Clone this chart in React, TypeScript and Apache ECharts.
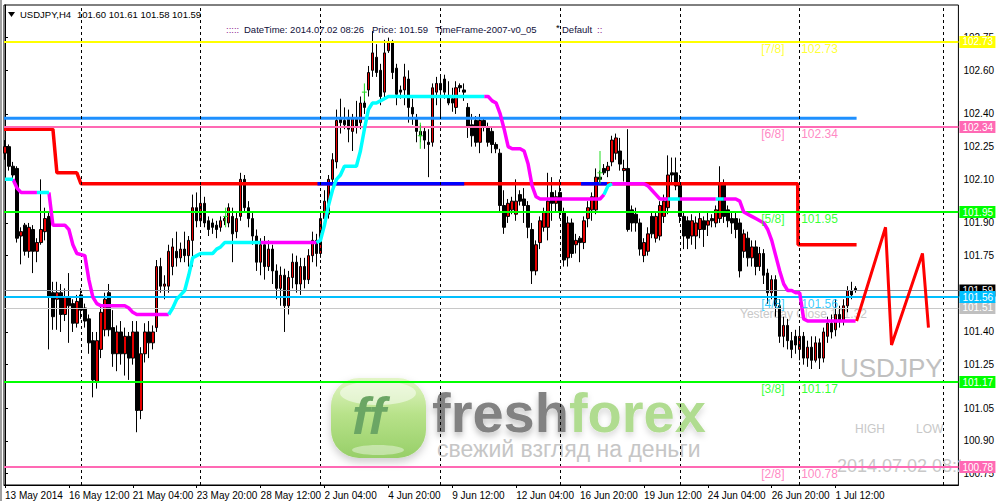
import React, { useEffect, useRef } from "react";
import * as echarts from "echarts";

const UI_FONT = '"Liberation Sans", Arial, sans-serif';
const TEXT_FONT = '"Liberation Sans", Arial, sans-serif';

// ---------- axes ----------
const xTickBars = [0, 16, 32, 48, 64, 80, 96, 112, 128, 144, 160, 176, 192, 208];
const xTickLabels = [
  "13 May 2014", "16 May 12:00", "21 May 04:00", "23 May 20:00", "28 May 12:00",
  "2 Jun 04:00", "4 Jun 20:00", "9 Jun 12:00", "12 Jun 04:00", "16 Jun 20:00",
  "19 Jun 12:00", "24 Jun 04:00", "26 Jun 20:00", "1 Jul 12:00",
];
const yTickValues = [100.75, 100.9, 101.05, 101.25, 101.4, 101.75, 101.9, 102.1, 102.25, 102.4, 102.6, 102.75];
const weekSeparators = [19, 49, 79, 109, 139, 169, 199, 235];

// ---------- USDJPY H4 candles: [open, close, low, high] ----------
const candles: number[][] = [
  [102.22, 102.25, 102.19, 102.28], [102.25, 102.16, 102.14, 102.26], [102.16, 102.12, 102.10, 102.18], [102.15, 101.83, 101.81, 102.16],
  [101.84, 101.86, 101.71, 101.88], [101.89, 101.77, 101.75, 101.90], [101.77, 101.88, 101.74, 101.90], [101.87, 101.77, 101.67, 101.89],
  [101.77, 101.81, 101.72, 101.83], [101.81, 101.87, 101.80, 102.10], [101.86, 101.92, 101.82, 101.97], [101.93, 101.56, 101.32, 101.95],
  [101.58, 101.47, 101.41, 101.63], [101.55, 101.58, 101.41, 101.63], [101.58, 101.48, 101.40, 101.62], [101.48, 101.56, 101.45, 101.60],
  [101.56, 101.52, 101.35, 101.67], [101.53, 101.44, 101.40, 101.55], [101.44, 101.54, 101.42, 101.57], [101.57, 101.50, 101.46, 101.60],
  [101.51, 101.45, 101.42, 101.53], [101.46, 101.35, 101.30, 101.48], [101.36, 101.18, 101.10, 101.40], [101.17, 101.36, 101.14, 101.40],
  [101.32, 101.49, 101.28, 101.52], [101.41, 101.55, 101.38, 101.58], [101.58, 101.41, 101.38, 101.62], [101.42, 101.30, 101.24, 101.50],
  [101.30, 101.40, 101.22, 101.43], [101.40, 101.30, 101.25, 101.45], [101.30, 101.38, 101.20, 101.42], [101.38, 101.28, 101.18, 101.40],
  [101.28, 101.40, 101.25, 101.45], [101.40, 101.04, 100.94, 101.45], [101.04, 101.30, 101.00, 101.33], [101.30, 101.40, 101.26, 101.44],
  [101.40, 101.35, 101.28, 101.45], [101.35, 101.40, 101.32, 101.43], [101.42, 101.70, 101.40, 101.73], [101.70, 101.61, 101.58, 101.74],
  [101.61, 101.62, 101.55, 101.66], [101.61, 101.77, 101.58, 101.80], [101.70, 101.79, 101.66, 101.83], [101.77, 101.74, 101.70, 101.86],
  [101.74, 101.78, 101.72, 101.81], [101.78, 101.75, 101.72, 101.86], [101.75, 101.82, 101.70, 101.84], [101.82, 101.97, 101.70, 102.03],
  [101.97, 101.91, 101.88, 102.04], [101.91, 101.99, 101.89, 102.07], [101.99, 101.90, 101.88, 102.02], [101.91, 101.87, 101.84, 101.93],
  [101.90, 101.88, 101.85, 101.92], [101.89, 101.87, 101.83, 101.91], [101.88, 101.91, 101.86, 101.93], [101.91, 101.92, 101.89, 101.93],
  [101.90, 101.97, 101.88, 101.99], [101.93, 101.85, 101.72, 101.97], [101.86, 101.92, 101.83, 101.95], [101.93, 102.10, 101.91, 102.13],
  [102.10, 101.97, 101.95, 102.12], [101.97, 101.92, 101.88, 102.00], [101.92, 101.84, 101.80, 101.95], [101.84, 101.72, 101.68, 101.87],
  [101.72, 101.80, 101.66, 101.83], [101.80, 101.70, 101.64, 101.84], [101.70, 101.78, 101.68, 101.82], [101.78, 101.68, 101.62, 101.80],
  [101.68, 101.60, 101.55, 101.71], [101.60, 101.66, 101.52, 101.70], [101.66, 101.52, 101.40, 101.69], [101.52, 101.65, 101.48, 101.68],
  [101.65, 101.72, 101.60, 101.76], [101.72, 101.62, 101.58, 101.75], [101.62, 101.70, 101.57, 101.74], [101.70, 101.64, 101.60, 101.74],
  [101.64, 101.75, 101.62, 101.78], [101.75, 101.82, 101.72, 101.86], [101.82, 101.76, 101.70, 101.85], [101.76, 101.92, 101.74, 101.95],
  [101.92, 102.00, 101.88, 102.05], [101.94, 102.10, 101.92, 102.12], [102.10, 102.19, 102.06, 102.22], [102.18, 102.37, 102.15, 102.42],
  [102.38, 102.36, 102.31, 102.47], [102.37, 102.35, 102.33, 102.43], [102.38, 102.33, 102.27, 102.42], [102.32, 102.38, 102.23, 102.40],
  [102.38, 102.34, 102.31, 102.46], [102.36, 102.45, 102.33, 102.48], [102.45, 102.43, 102.40, 102.50], [102.51, 102.59, 102.48, 102.62],
  [102.60, 102.68, 102.57, 102.78], [102.66, 102.59, 102.57, 102.72], [102.60, 102.48, 102.44, 102.63], [102.50, 102.68, 102.47, 102.74],
  [102.69, 102.73, 102.68, 102.75], [102.73, 102.59, 102.56, 102.74], [102.61, 102.49, 102.44, 102.63], [102.51, 102.50, 102.47, 102.53],
  [102.51, 102.57, 102.44, 102.63], [102.56, 102.43, 102.36, 102.60], [102.43, 102.40, 102.35, 102.47], [102.38, 102.32, 102.27, 102.40],
  [102.32, 102.30, 102.27, 102.35], [102.32, 102.28, 102.24, 102.34], [102.27, 102.26, 102.11, 102.33], [102.27, 102.52, 102.25, 102.54],
  [102.50, 102.54, 102.44, 102.57], [102.54, 102.51, 102.38, 102.57], [102.56, 102.50, 102.47, 102.58], [102.48, 102.45, 102.44, 102.55],
  [102.47, 102.45, 102.41, 102.52], [102.43, 102.52, 102.40, 102.55], [102.53, 102.52, 102.50, 102.54], [102.51, 102.50, 102.46, 102.54],
  [102.43, 102.34, 102.29, 102.45], [102.35, 102.30, 102.25, 102.40], [102.37, 102.27, 102.25, 102.39], [102.27, 102.37, 102.22, 102.40],
  [102.37, 102.34, 102.32, 102.38], [102.34, 102.27, 102.25, 102.36], [102.32, 102.26, 102.22, 102.34], [102.26, 102.24, 102.22, 102.27],
  [102.22, 101.98, 101.95, 102.24], [101.98, 101.88, 101.85, 102.05], [101.93, 101.99, 101.90, 102.01], [101.96, 102.00, 101.94, 102.02],
  [101.94, 102.00, 101.91, 102.10], [102.03, 102.00, 101.98, 102.05], [102.01, 101.98, 101.90, 102.06], [101.98, 101.88, 101.83, 102.00],
  [101.87, 101.68, 101.62, 101.90], [101.68, 101.80, 101.66, 101.82], [101.81, 101.91, 101.78, 101.93], [101.88, 101.95, 101.86, 101.97],
  [101.88, 102.00, 101.82, 102.13], [102.04, 101.99, 101.91, 102.11], [101.99, 102.02, 101.95, 102.05], [102.04, 101.95, 101.92, 102.10],
  [101.95, 101.73, 101.70, 101.97], [101.74, 101.90, 101.70, 101.93], [101.90, 101.76, 101.74, 101.92], [101.80, 101.82, 101.76, 101.85],
  [101.83, 101.81, 101.72, 101.84], [101.81, 101.91, 101.78, 101.93], [101.92, 101.97, 101.88, 102.00], [101.96, 102.02, 101.91, 102.04],
  [101.96, 102.11, 101.94, 102.15], [102.11, 102.10, 102.08, 102.14], [102.15, 102.13, 102.12, 102.17], [102.14, 102.16, 102.11, 102.18],
  [102.18, 102.28, 102.16, 102.30], [102.22, 102.29, 102.19, 102.31], [102.23, 102.17, 102.14, 102.29], [102.14, 102.15, 102.09, 102.19],
  [102.15, 101.87, 101.86, 102.33], [101.96, 101.90, 101.86, 101.98], [101.94, 101.90, 101.86, 101.97], [101.90, 101.78, 101.75, 101.92],
  [101.75, 101.81, 101.72, 101.83], [101.77, 101.85, 101.75, 101.88], [101.93, 101.85, 101.83, 101.95], [101.83, 101.93, 101.81, 101.95],
  [101.84, 101.98, 101.82, 102.00], [101.93, 102.00, 101.90, 102.03], [101.97, 102.12, 101.94, 102.21], [102.13, 102.12, 102.08, 102.20],
  [102.13, 102.07, 102.05, 102.20], [102.08, 101.93, 101.90, 102.12], [101.93, 101.84, 101.78, 101.95], [101.91, 101.83, 101.78, 101.93],
  [101.84, 101.91, 101.80, 101.94], [101.84, 101.90, 101.78, 101.93], [101.87, 101.92, 101.83, 101.95], [101.91, 101.87, 101.79, 101.93],
  [101.89, 101.91, 101.84, 101.95], [101.92, 101.91, 101.88, 101.94], [101.90, 101.96, 101.88, 101.98], [101.92, 102.08, 101.90, 102.16],
  [102.08, 101.93, 101.90, 102.10], [101.96, 101.91, 101.88, 101.98], [101.92, 101.90, 101.85, 101.95], [101.92, 101.87, 101.83, 101.95],
  [101.90, 101.68, 101.65, 101.92], [101.77, 101.85, 101.74, 101.87], [101.83, 101.74, 101.70, 101.86], [101.74, 101.79, 101.70, 101.82],
  [101.79, 101.70, 101.66, 101.82], [101.70, 101.76, 101.68, 101.79], [101.76, 101.66, 101.62, 101.78], [101.67, 101.58, 101.53, 101.69],
  [101.58, 101.64, 101.55, 101.66], [101.64, 101.52, 101.47, 101.66], [101.52, 101.38, 101.35, 101.55], [101.38, 101.43, 101.33, 101.47],
  [101.43, 101.36, 101.32, 101.46], [101.36, 101.32, 101.28, 101.40], [101.38, 101.34, 101.30, 101.41], [101.32, 101.38, 101.27, 101.42],
  [101.38, 101.28, 101.25, 101.40], [101.28, 101.33, 101.24, 101.36], [101.33, 101.27, 101.23, 101.38], [101.27, 101.35, 101.26, 101.38],
  [101.35, 101.28, 101.23, 101.37], [101.28, 101.40, 101.26, 101.42], [101.38, 101.44, 101.35, 101.47], [101.44, 101.40, 101.37, 101.48],
  [101.41, 101.48, 101.38, 101.55], [101.48, 101.45, 101.42, 101.52], [101.45, 101.52, 101.43, 101.55], [101.52, 101.59, 101.49, 101.61],
  [101.59, 101.57, 101.55, 101.63], [101.60, 101.59, 101.58, 101.61],
];

// ---------- trend line (vertices: [bar, price]) and its rising (cyan) stretches ----------
const trendPoints: number[][] = [
  [0, 102.10], [2, 102.10], [3, 102.06], [4, 102.04], [11, 102.04], [12, 101.89], [15, 101.89], [16, 101.87], [17, 101.80],
  [18, 101.76], [20, 101.75], [21, 101.64], [22, 101.56], [23, 101.53], [24, 101.52], [30, 101.52], [31, 101.51], [32, 101.49],
  [33, 101.48], [41, 101.48], [42, 101.51], [43, 101.55], [44, 101.57], [45, 101.59], [46, 101.66], [47, 101.74], [48, 101.75],
  [49, 101.76], [52, 101.76], [53, 101.78], [54, 101.79], [55, 101.81], [78, 101.81], [79, 101.82], [80, 101.89], [81, 101.98],
  [82, 102.05], [83, 102.10], [84, 102.12], [85, 102.16], [88, 102.16], [89, 102.23], [90, 102.33], [91, 102.42], [92, 102.45],
  [93, 102.45], [94, 102.46], [95, 102.47], [96, 102.48], [121, 102.48], [122, 102.46], [123, 102.45], [124, 102.40], [125, 102.33],
  [126, 102.25], [127, 102.24], [129, 102.24], [130, 102.23], [131, 102.17], [132, 102.07], [133, 102.02], [134, 102.01], [149, 102.01],
  [150, 102.03], [151, 102.07], [152, 102.08], [160, 102.08], [161, 102.07], [162, 102.05], [163, 102.03], [164, 102.01], [183, 102.01],
  [184, 102.00], [185, 101.95], [186, 101.94], [187, 101.93], [188, 101.92], [189, 101.91], [190, 101.90], [191, 101.87], [192, 101.82],
  [193, 101.75], [194, 101.68], [195, 101.62], [196, 101.59], [197, 101.59], [198, 101.58], [199, 101.58], [200, 101.46], [201, 101.45],
  [213, 101.45],
];
const cyanRanges = [[0, 2], [8, 11], [41, 64], [78, 120], [150, 152], [166, 169], [178, 180]];

// ---------- red stop line, blue overlay, projection ----------
const redPoints = [[-0.25, 102.33], [12, 102.33], [13, 102.13], [18, 102.13], [19, 102.08], [198.5, 102.08], [198.6, 101.80], [213.25, 101.80]];
const blueSegments = [[[78.25, 102.08], [115, 102.08]], [[144.25, 102.08], [150.75, 102.08]]];
const projectionPoints = [[213.25, 101.45], [220.5, 101.88], [222, 101.34], [229.75, 101.76], [231.25, 101.42]];
const dodgerLevel = 102.38;

// ---------- green marks: [bar, top, bottom, tick] ----------
const greenMarks = [[55.25, 101.97, 101.88, 101.93], [90, 102.54, 102.46, 102.50], [104, 102.36, 102.24, 102.30], [149, 102.23, 102.08, 102.13]];

// ---------- Murrey levels ----------
const murreyNames = ["[7/8]", "[6/8]", "[5/8]", "[4/8]", "[3/8]", "[2/8]"];
const murreyLevels = [102.73, 102.34, 101.95, 101.56, 101.17, 100.78];
const murreyColors = ["#FFFF00", "#FF69B4", "#00FF00", "#00BFFF", "#00FF00", "#FF69B4"];
const bidLevel = 101.59;
const silverLevel = 101.51;

const X_MIN = -0.25;
const X_MAX = 238.75;
const Y_MIN = 100.698;
const Y_MAX = 102.8997;

function interp(pts: number[][], x: number): number {
  for (let i = 0; i < pts.length - 1; i++) {
    const a = pts[i], b = pts[i + 1];
    if (x >= a[0] && x <= b[0]) return a[1] + ((b[1] - a[1]) * (x - a[0])) / (b[0] - a[0]);
  }
  return pts[pts.length - 1][1];
}
function slicePts(pts: number[][], a: number, b: number) {
  const out = [[a, interp(pts, a)]];
  pts.forEach((p) => { if (p[0] > a && p[0] < b) out.push(p); });
  out.push([b, interp(pts, b)]);
  return out;
}

function buildOption() {
  const last = candles[candles.length - 1];
  const lineSeries = (data: number[][], color: string, width: number, z: number) => ({
    type: "line", data, symbol: "none", silent: true, z, clip: true,
    lineStyle: { color, width }, animation: false,
  });

  const magentaRanges: number[][] = [];
  let start = 0;
  cyanRanges.forEach((r) => { if (r[0] > start) magentaRanges.push([start, r[0]]); start = r[1]; });
  if (start < 213) magentaRanges.push([start, 213]);

  const tag = (v: number, color: string, lineColor: string, width: number) => ({
    yAxis: v,
    lineStyle: { color: lineColor, width, type: "solid" },
    label: {
      show: true, position: "end", distance: 1, formatter: v.toFixed(2), color: "#FFFFFF",
      backgroundColor: color, padding: [1, 0, 0, 3], width: 33, height: 11, lineHeight: 11,
      fontSize: 10, fontFamily: UI_FONT,
    },
  });

  const levelData: any[] = [
    tag(bidLevel, "#000000", "#8A9099", 1),
    tag(silverLevel, "#C0C0C0", "#C8C8C8", 1),
  ];
  murreyLevels.forEach((v, i) => { if (i !== 3) levelData.push(tag(v, murreyColors[i], murreyColors[i], 2)); });
  levelData.push(tag(murreyLevels[3], murreyColors[3], murreyColors[3], 2));

  const series: any[] = [
    {
      type: "line", data: [], z: 3, silent: true,
      markLine: { symbol: ["none", "none"], silent: true, animation: false, label: { show: false },
        lineStyle: { type: [3, 3], color: "#000", width: 1 }, data: weekSeparators.map((v) => ({ xAxis: v })) },
    },
    {
      type: "candlestick", data: candles.map((c, i) => [i, c[0], c[1], c[2], c[3]]),
      encode: { x: 0, y: [1, 2, 3, 4] }, barWidth: 3, silent: true, z: 2,
      itemStyle: { color: "#E60000", color0: "#000000", borderColor: "#000000", borderColor0: "#000000", borderWidth: 1 },
    },
    {
      type: "line", data: [], z: 3, silent: true,
      markLine: { symbol: ["none", "none"], silent: true, animation: false, data: levelData },
    },
    lineSeries([[X_MIN, dodgerLevel], [213.25, dodgerLevel]], "#1E90FF", 3, 3),
    lineSeries(redPoints, "#FF0000", 3.5, 4),
    ...blueSegments.map((s) => lineSeries(s, "#0000FF", 3.5, 4)),
    ...magentaRanges.map((r) => lineSeries(slicePts(trendPoints, r[0], r[1]), "#FF00FF", 3.5, 5)),
    ...cyanRanges.map((r) => lineSeries(slicePts(trendPoints, r[0], r[1]), "#00FFFF", 3.5, 5)),
    lineSeries(projectionPoints, "#FF0000", 3, 5),
    {
      type: "custom", z: 5, silent: true, data: greenMarks, encode: { x: 0, y: [1, 2, 3] },
      renderItem: (_p: any, api: any) => {
        const t = api.coord([api.value(0), api.value(1)]);
        const b = api.coord([api.value(0), api.value(2)]);
        const m = api.coord([api.value(0), api.value(3)]);
        const st = { stroke: "#22DD22", lineWidth: 1 };
        return {
          type: "group",
          children: [
            { type: "line", shape: { x1: t[0], y1: t[1], x2: b[0], y2: b[1] }, style: st },
            { type: "line", shape: { x1: m[0] - 2.5, y1: m[1], x2: m[0] + 2.5, y2: m[1] }, style: st },
          ],
        };
      },
    },
    {
      type: "scatter", z: 6, silent: true, symbolSize: 1, itemStyle: { color: "transparent" },
      data: murreyLevels.flatMap((v, i) => [
        { value: [189.5, v], label: { formatter: murreyNames[i], color: murreyColors[i] } },
        { value: [199.5, v], label: { formatter: v.toFixed(2), color: murreyColors[i] } },
      ]),
      label: { show: true, position: [0, 1], align: "left", verticalAlign: "top", fontSize: 12, lineHeight: 13, fontFamily: TEXT_FONT },
    },
  ];

  const gtext = (x: number, y: number, text: string, font: string, fill: string, z = 0, extra: any = {}) => ({
    type: "text", x, y, z, silent: true,
    style: { text, font, fill, align: "left", verticalAlign: "middle", ...extra },
  });
  const HDR1 = "9.5px " + UI_FONT;
  const HDR2 = "9.5px " + UI_FONT;

  const graphic: any[] = [
    // FreshForex watermark
    {
      type: "rect", z: -1, silent: true, shape: { x: 331, y: 378, width: 95, height: 80, r: 28 },
      style: {
        fill: new echarts.graphic.LinearGradient(0, 0, 0, 1, [
          { offset: 0, color: "#E2F5C6" }, { offset: 0.45, color: "#B8E28A" }, { offset: 1, color: "#97CF68" },
        ]),
        shadowBlur: 8, shadowColor: "rgba(0,0,0,0.2)", shadowOffsetY: 4,
      },
    },
    { type: "ellipse", z: -1, silent: true, shape: { cx: 378, cy: 393, rx: 38, ry: 12 }, style: { fill: "rgba(255,255,255,0.5)" } },
    { type: "ellipse", z: -1, silent: true, shape: { cx: 378, cy: 450, rx: 26, ry: 5 }, style: { fill: "rgba(255,255,255,0.4)" } },
    gtext(352, 416, "ff", 'italic bold 52px "Liberation Sans", Arial, sans-serif', "#6BA664", -1),
    {
      type: "text", x: 432, y: 412, z: -1, silent: true,
      style: {
        text: "{a|fresh}{b|forex}", verticalAlign: "middle", align: "left",
        rich: {
          a: { font: 'bold 56px "Liberation Sans", Arial, sans-serif', fill: "#828282", textShadowBlur: 6, textShadowColor: "rgba(0,0,0,0.25)", textShadowOffsetY: 4 },
          b: { font: 'bold 56px "Liberation Sans", Arial, sans-serif', fill: "#B0DC90", textShadowBlur: 6, textShadowColor: "rgba(0,0,0,0.15)", textShadowOffsetY: 4 },
        },
      },
    },
    gtext(437, 449, "свежий взгляд на деньги", '23px "Liberation Sans", Arial, sans-serif', "#C6C6C6", -1),

    // annotations
    gtext(740, 314, "Yesterday Close 101.32", "12px " + TEXT_FONT, "#C8C8C8", 0),
    gtext(840, 368, "USDJPY", "26px " + TEXT_FONT, "#C0C0C0", 0),
    gtext(855, 429, "HIGH", "12px " + TEXT_FONT, "#C8C8C8", 0),
    gtext(916, 429, "LOW", "12px " + TEXT_FONT, "#C8C8C8", 0),
    gtext(837, 466, "2014.07.02 08:26", "18px " + TEXT_FONT, "#C8C8C8", 0),
    { type: "rect", z: 1, silent: true, shape: { x: 961, y: 0, width: 36, height: 501 }, style: { fill: "#FFFFFF" } },
    { type: "rect", z: 1, silent: true, shape: { x: 0, y: 0, width: 2, height: 501 }, style: { fill: "#A0A0A0" } },

    // header
    { type: "polygon", z: 6, silent: true, shape: { points: [[8, 12], [15, 12], [11.5, 17]] }, style: { fill: "#000" } },
    gtext(20, 14.5, "USDJPY,H4", HDR1, "#000", 6),
    gtext(77, 14.5, `${last[0].toFixed(2)} ${last[3].toFixed(2)} ${last[2].toFixed(2)} ${last[1].toFixed(2)}`, HDR1, "#000", 6),
    gtext(226, 29, ":::::", HDR2, "#8B1A8B", 6),
    gtext(244, 29, "DateTime: 2014.07.02 08:26", HDR2, "#10103A", 6),
    gtext(372, 29, `Price: ${last[1].toFixed(2)}`, HDR2, "#10103A", 6),
    gtext(435, 29, "TimeFrame-2007-v0_05", HDR2, "#10103A", 6),
    gtext(556, 27, "*", HDR2, "#000", 6),
    gtext(562, 29, "Default", HDR2, "#10103A", 6),
    gtext(597, 29, "::", HDR2, "#8B1A8B", 6),
  ];

  return {
    animation: false,
    backgroundColor: "#FFFFFF",
    grid: { left: 4, top: 5, width: 956, height: 480, show: true, borderColor: "#000", borderWidth: 1, backgroundColor: "transparent" },
    xAxis: {
      type: "value", min: X_MIN, max: X_MAX,
      axisLine: { show: true, onZero: false, lineStyle: { color: "#000", width: 1 } },
      axisTick: { show: true, customValues: xTickBars, length: 3, lineStyle: { color: "#000" } },
      axisLabel: {
        show: true, customValues: xTickBars, formatter: (v: number) => xTickLabels[xTickBars.indexOf(v)] ?? "",
        align: "left", margin: 5, color: "#000", fontSize: 10, fontFamily: UI_FONT,
      },
      splitLine: { show: false },
    },
    yAxis: {
      type: "value", position: "right", min: Y_MIN, max: Y_MAX, z: 2,
      axisLine: { show: true, lineStyle: { color: "#000" } },
      axisTick: { show: true, customValues: yTickValues, length: 3, lineStyle: { color: "#000" } },
      axisLabel: {
        show: true, customValues: yTickValues, formatter: (v: number) => v.toFixed(2),
        margin: 5, color: "#000", fontSize: 10, fontFamily: UI_FONT,
      },
      splitLine: { show: false },
    },
    graphic,
    series,
  };
}

export default function App() {
  const ref = useRef<HTMLDivElement>(null);
  useEffect(() => {
    document.body.style.margin = "0";
    const chart = echarts.init(ref.current!, null, { renderer: "svg" });
    chart.setOption(buildOption() as any);
    return () => chart.dispose();
  }, []);
  return <div ref={ref} style={{ width: 997, height: 501 }} />;
}
